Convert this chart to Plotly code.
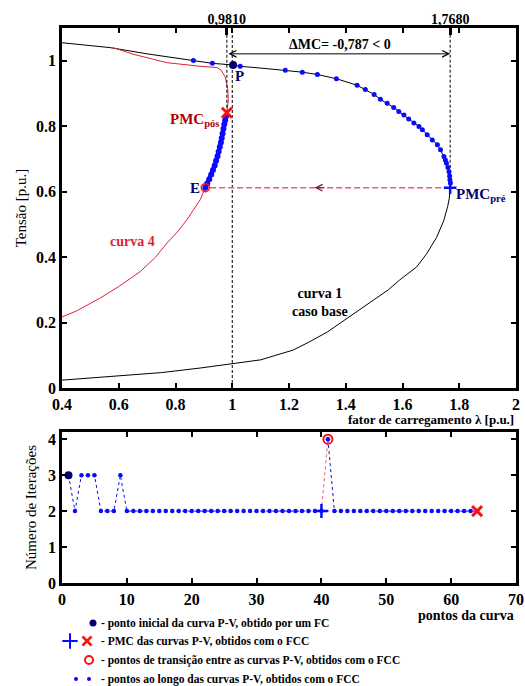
import plotly.graph_objects as go

FONT = "Liberation Serif"
BLUE = "#0a0aff"
NAVY = "#00006e"
RED = "#ff1010"
DRED = "#b00000"
PINK = "#e85a78"

# ---------------- data: top chart (P-V curves) ----------------
curve1_lam = [0.4, 0.57, 0.70, 0.863, 0.93, 1.003, 1.028, 1.12, 1.187, 1.247, 1.30, 1.367, 1.44,
              1.469, 1.50, 1.522, 1.546, 1.569, 1.587, 1.605, 1.622, 1.640, 1.658, 1.670, 1.687,
              1.705, 1.723, 1.734, 1.746, 1.755, 1.760, 1.764, 1.767, 1.768, 1.765, 1.759, 1.745,
              1.72, 1.685, 1.65, 1.59, 1.55, 1.50, 1.42, 1.335, 1.27, 1.215, 1.10, 1.0, 0.887,
              0.75, 0.64, 0.5, 0.4]
curve1_V = [1.055, 1.04, 1.021, 1.001, 0.992, 0.987, 0.983, 0.976, 0.971, 0.965, 0.958, 0.945, 0.925,
            0.912, 0.897, 0.882, 0.870, 0.857, 0.845, 0.834, 0.822, 0.810, 0.799, 0.789, 0.774,
            0.758, 0.743, 0.728, 0.707, 0.687, 0.674, 0.661, 0.636, 0.612, 0.58, 0.554, 0.51,
            0.46, 0.41, 0.37, 0.33, 0.30, 0.27, 0.223, 0.171, 0.14, 0.116, 0.086, 0.074, 0.061,
            0.047, 0.04, 0.03, 0.024]

curve4_lam = [0.4, 0.45, 0.535, 0.6, 0.675, 0.73, 0.77, 0.81, 0.84, 0.865, 0.887, 0.905, 0.922,
              0.947, 0.965, 0.981, 0.986, 0.984, 0.975, 0.96, 0.947, 0.887, 0.77, 0.65, 0.58]
curve4_V = [0.217, 0.235, 0.275, 0.31, 0.355, 0.40, 0.443, 0.48, 0.514, 0.545, 0.575, 0.612, 0.645,
            0.707, 0.78, 0.841, 0.88, 0.915, 0.951, 0.972, 0.979, 0.983, 0.994, 1.02, 1.04]

pts1_lam = [0.863, 0.93, 1.028, 1.187, 1.247, 1.30, 1.367, 1.44, 1.469, 1.50, 1.522, 1.546, 1.569,
            1.587, 1.605, 1.622, 1.640, 1.658, 1.670, 1.687, 1.705, 1.723, 1.734, 1.746, 1.751,
            1.755, 1.760, 1.764, 1.766, 1.767, 1.769]
pts1_V = [1.001, 0.992, 0.983, 0.971, 0.965, 0.958, 0.945, 0.925, 0.912, 0.897, 0.882, 0.870, 0.857,
          0.845, 0.834, 0.822, 0.810, 0.799, 0.789, 0.774, 0.758, 0.743, 0.728, 0.707, 0.697,
          0.687, 0.674, 0.661, 0.648, 0.636, 0.626]

pts4_lam = [0.905, 0.912, 0.919, 0.926, 0.932, 0.938, 0.943, 0.948, 0.952, 0.956, 0.960, 0.963,
            0.966, 0.969, 0.972, 0.975, 0.978]
pts4_V = [0.612, 0.625, 0.638, 0.652, 0.666, 0.680, 0.694, 0.708, 0.722, 0.736, 0.750, 0.764,
          0.778, 0.792, 0.806, 0.818, 0.830]

P_pt = (1.003, 0.987)
PMC_pre = (1.768, 0.612)
PMC_pos = (0.981, 0.841)
E_pt = (0.905, 0.612)

# ---------------- data: bottom chart (iterations) ----------------
it_c1_x = list(range(1, 41))
it_c1_y = [3, 2, 3, 3, 3, 2, 2, 2, 3] + [2] * 31
it_c4_x = list(range(41, 65))
it_c4_y = [4] + [2] * 23

fig = go.Figure()

# top chart
fig.add_trace(go.Scatter(x=curve1_lam, y=curve1_V, mode="lines",
                         line=dict(color="black", width=1), xaxis="x", yaxis="y"))
fig.add_trace(go.Scatter(x=curve4_lam, y=curve4_V, mode="lines",
                         line=dict(color="#e0203a", width=1), xaxis="x", yaxis="y"))
# vertical dashed lines
fig.add_trace(go.Scatter(x=[1.0, 1.0], y=[0, 1.1], mode="lines",
                         line=dict(color="black", width=1, dash="3px,2px"), xaxis="x", yaxis="y"))
fig.add_trace(go.Scatter(x=[PMC_pos[0], PMC_pos[0]], y=[PMC_pos[1], 1.1], mode="lines",
                         line=dict(color="black", width=1, dash="3px,2px"), xaxis="x", yaxis="y"))
fig.add_trace(go.Scatter(x=[PMC_pre[0], PMC_pre[0]], y=[PMC_pre[1], 1.1], mode="lines",
                         line=dict(color="black", width=1, dash="3px,2px"), xaxis="x", yaxis="y"))
# red dashed horizontal
fig.add_trace(go.Scatter(x=[PMC_pre[0], E_pt[0]], y=[PMC_pre[1], E_pt[1]], mode="lines",
                         line=dict(color=PINK, width=1.4, dash="6px,3px"), xaxis="x", yaxis="y"))
# blue points
fig.add_trace(go.Scatter(x=pts1_lam, y=pts1_V, mode="markers",
                         marker=dict(color=BLUE, size=5), xaxis="x", yaxis="y"))
fig.add_trace(go.Scatter(x=pts4_lam, y=pts4_V, mode="markers",
                         marker=dict(color=BLUE, size=6), xaxis="x", yaxis="y"))
fig.add_trace(go.Scatter(x=pts4_lam, y=pts4_V, mode="lines",
                         line=dict(color=BLUE, width=4), xaxis="x", yaxis="y"))
fig.add_trace(go.Scatter(x=[P_pt[0]], y=[P_pt[1]], mode="markers",
                         marker=dict(color=NAVY, size=8), xaxis="x", yaxis="y"))
fig.add_trace(go.Scatter(x=[PMC_pre[0]], y=[PMC_pre[1]], mode="markers",
                         marker=dict(symbol="cross-thin", size=9, color=BLUE,
                                     line=dict(color=BLUE, width=2.5)),
                         xaxis="x", yaxis="y"))
fig.add_trace(go.Scatter(x=[PMC_pos[0]], y=[PMC_pos[1]], mode="markers",
                         marker=dict(symbol="x-thin", size=10, color=RED, line=dict(color=RED, width=3)),
                         xaxis="x", yaxis="y"))
fig.add_trace(go.Scatter(x=[E_pt[0]], y=[E_pt[1]], mode="markers",
                         marker=dict(symbol="circle-open", size=8, color=RED,
                                     line=dict(color=RED, width=1.5)),
                         xaxis="x", yaxis="y"))
# invisible trace so the top tick axis (x3) is drawn
fig.add_trace(go.Scatter(x=[PMC_pos[0], PMC_pre[0]], y=[PMC_pos[1], PMC_pre[1]], mode="markers",
                         marker=dict(opacity=0), hoverinfo="skip", xaxis="x3", yaxis="y"))

# bottom chart
fig.add_trace(go.Scatter(x=it_c1_x, y=it_c1_y, mode="lines+markers",
                         line=dict(color=BLUE, width=1, dash="3px,3px"),
                         marker=dict(color=BLUE, size=4.5), xaxis="x2", yaxis="y2"))
fig.add_trace(go.Scatter(x=[it_c1_x[-1], it_c4_x[0]], y=[it_c1_y[-1], it_c4_y[0]], mode="lines",
                         line=dict(color=PINK, width=1, dash="3px,3px"), xaxis="x2", yaxis="y2"))
fig.add_trace(go.Scatter(x=it_c4_x, y=it_c4_y, mode="lines+markers",
                         line=dict(color=BLUE, width=1, dash="3px,3px"),
                         marker=dict(color=BLUE, size=4.5), xaxis="x2", yaxis="y2"))
fig.add_trace(go.Scatter(x=[it_c1_x[0]], y=[it_c1_y[0]], mode="markers",
                         marker=dict(color=NAVY, size=8), xaxis="x2", yaxis="y2"))
fig.add_trace(go.Scatter(x=[it_c1_x[-1]], y=[it_c1_y[-1]], mode="markers",
                         marker=dict(symbol="cross-thin", size=10, color=BLUE,
                                     line=dict(color=BLUE, width=2.5)),
                         xaxis="x2", yaxis="y2"))
fig.add_trace(go.Scatter(x=[it_c4_x[0]], y=[it_c4_y[0]], mode="markers",
                         marker=dict(symbol="circle-open", size=9, color=RED,
                                     line=dict(color=RED, width=2)),
                         xaxis="x2", yaxis="y2"))
fig.add_trace(go.Scatter(x=[it_c4_x[0]], y=[it_c4_y[0]], mode="markers",
                         marker=dict(color=BLUE, size=4), xaxis="x2", yaxis="y2"))
fig.add_trace(go.Scatter(x=[it_c4_x[-1]], y=[it_c4_y[-1]], mode="markers",
                         marker=dict(symbol="x-thin", size=10, color=RED, line=dict(color=RED, width=3)),
                         xaxis="x2", yaxis="y2"))

# legend symbols (pixel-coordinate helper axis)
fig.add_trace(go.Scatter(x=[93], y=[623], mode="markers", marker=dict(color=NAVY, size=7),
                         xaxis="x4", yaxis="y4"))
fig.add_trace(go.Scatter(x=[70], y=[641], mode="markers",
                         marker=dict(symbol="cross-thin", size=11, color=BLUE,
                                     line=dict(color=BLUE, width=2)),
                         xaxis="x4", yaxis="y4"))
fig.add_trace(go.Scatter(x=[87], y=[641], mode="markers",
                         marker=dict(symbol="x-thin", size=9, color=RED, line=dict(color=RED, width=2.5)),
                         xaxis="x4", yaxis="y4"))
fig.add_trace(go.Scatter(x=[89], y=[660], mode="markers",
                         marker=dict(symbol="circle-open", size=8, color=RED,
                                     line=dict(color=RED, width=2)),
                         xaxis="x4", yaxis="y4"))
fig.add_trace(go.Scatter(x=[76, 89], y=[679, 679], mode="markers",
                         marker=dict(color=BLUE, size=4), xaxis="x4", yaxis="y4"))

bold_tick = dict(family=FONT, size=16, color="black", weight="bold")
ax_common = dict(showline=True, linewidth=2.5, linecolor="black", mirror="ticks",
                 ticks="inside", ticklen=5, tickwidth=2, tickcolor="black",
                 showgrid=False, zeroline=False, tickfont=bold_tick, automargin=False)

legend_rows = [
    (623, "- ponto inicial da curva P-V, obtido por um FC"),
    (641, "- PMC das curvas P-V, obtidos com o FCC"),
    (660, "- pontos de transição entre as curvas P-V, obtidos com o FCC"),
    (679, "- pontos ao longo das curvas P-V, obtidos com o FCC"),
]

annotations = [
    dict(x=1.378, y=1.05, xref="x", yref="y",
         text="ΔMC= -0,787 < 0", showarrow=False,
         font=dict(family=FONT, size=14, color="black", weight="bold")),
    dict(x=PMC_pre[0], y=1.021, ax=PMC_pos[0], ay=1.021, xref="x", yref="y", axref="x", ayref="y",
         text="", showarrow=True, arrowhead=5, arrowside="end+start", arrowwidth=1, arrowsize=1.3,
         arrowcolor="black"),
    dict(x=1.29, y=PMC_pre[1], ax=1.33, ay=PMC_pre[1], xref="x", yref="y", axref="x", ayref="y",
         text="", showarrow=True, arrowhead=5, arrowwidth=1, arrowsize=1.3, arrowcolor="#6a2030"),
    dict(x=1.025, y=0.952, xref="x", yref="y", text="P", showarrow=False,
         font=dict(family=FONT, size=15, color=NAVY, weight="bold")),
    dict(x=0.96, y=0.82, xref="x", yref="y", xanchor="right", text="PMC<sub>pós</sub>",
         showarrow=False, font=dict(family=FONT, size=15, color=DRED, weight="bold")),
    dict(x=0.893, y=0.612, xref="x", yref="y", xanchor="right", text="E", showarrow=False,
         font=dict(family=FONT, size=15, color=NAVY, weight="bold")),
    dict(x=1.78, y=0.59, xref="x", yref="y", xanchor="left", text="PMC<sub>pré</sub>",
         showarrow=False, font=dict(family=FONT, size=15, color=NAVY, weight="bold")),
    dict(x=0.65, y=0.447, xref="x", yref="y", text="curva 4", showarrow=False,
         font=dict(family=FONT, size=14, color="#e0203a", weight="bold")),
    dict(x=1.31, y=0.26, xref="x", yref="y", text="curva 1<br>caso base", showarrow=False,
         font=dict(family=FONT, size=14, color="black", weight="bold")),
    dict(x=516, y=419, xref="x4", yref="y4", xanchor="right", text="fator de carregamento λ [p.u.]",
         showarrow=False, font=dict(family=FONT, size=13, color="black", weight="bold")),
    dict(x=516, y=615, xref="x4", yref="y4", xanchor="right", text="pontos da curva",
         showarrow=False, font=dict(family=FONT, size=14, color="black", weight="bold")),
]
for yy, t in legend_rows:
    annotations.append(dict(x=99, y=yy, xref="x4", yref="y4", xanchor="left", text=t,
                            showarrow=False,
                            font=dict(family=FONT, size=11.5, color="black", weight="bold")))

fig.update_layout(
    width=525, height=686,
    margin=dict(l=62, r=9, t=28, b=0, pad=0, autoexpand=False),
    paper_bgcolor="white", plot_bgcolor="rgba(0,0,0,0)",
    showlegend=False,
    font=dict(family=FONT, color="black"),
    xaxis=dict(domain=[0, 1], range=[0.4, 2], anchor="y", tickvals=[0.4, 0.6, 0.8, 1, 1.2, 1.4, 1.6, 1.8, 2],
               ticktext=["0.4", "0.6", "0.8", "1", "1.2", "1.4", "1.6", "1.8", "2"], **ax_common),
    yaxis=dict(domain=[0.4529, 1], range=[0, 1.1], anchor="x", tickvals=[0, 0.2, 0.4, 0.6, 0.8, 1],
               ticktext=["0", "0.2", "0.4", "0.6", "0.8", "1"],
               title=dict(text="Tensão [p.u.]", font=dict(family=FONT, size=15, color="black"), standoff=6),
               **ax_common),
    xaxis3=dict(overlaying="x", side="top", anchor="y", range=[0.4, 2],
                tickvals=[PMC_pos[0], PMC_pre[0]], ticktext=["0,9810", "1,7680"],
                ticks="inside", ticklen=7, tickwidth=3, tickcolor="black", showgrid=False, zeroline=False,
                showline=False, automargin=False,
                tickfont=dict(family=FONT, size=14, color="black", weight="bold")),
    xaxis2=dict(domain=[0, 1], range=[0, 70], anchor="y2", dtick=10, **ax_common),
    yaxis2=dict(domain=[0.1565, 0.386], range=[0, 4.2], anchor="x2", dtick=1,
                title=dict(text="Número de Iterações", font=dict(family=FONT, size=15, color="black"),
                           standoff=8),
                **ax_common),
    xaxis4=dict(domain=[0, 1], range=[62, 516], anchor="y4", visible=False, fixedrange=True,
                automargin=False),
    yaxis4=dict(domain=[0, 1], range=[686, 28], anchor="x4", visible=False, fixedrange=True,
                automargin=False),
    annotations=annotations,
)

fig.write_html("out.html")
